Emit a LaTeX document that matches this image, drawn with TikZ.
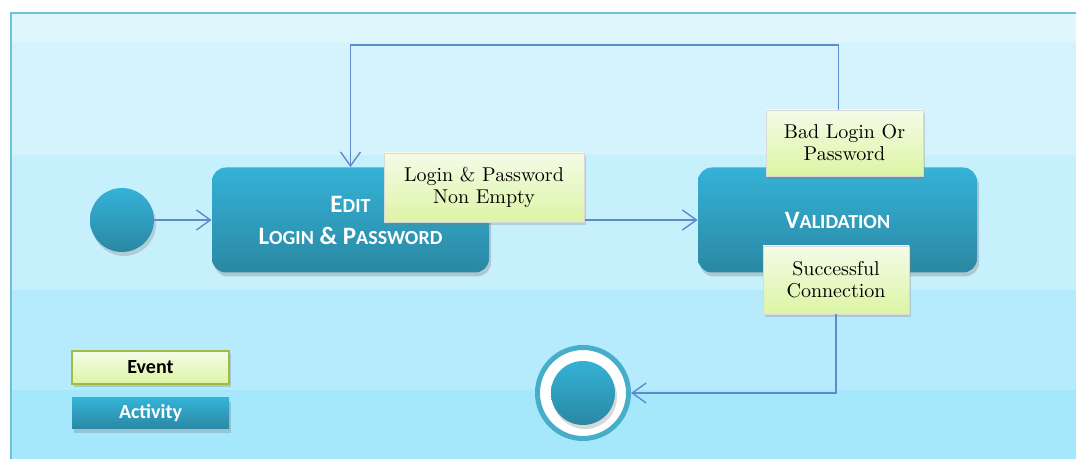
\documentclass[tikz,border=0pt]{standalone}
\usepackage{fontspec}
\newfontfamily\calibri{Carlito}
\usetikzlibrary{positioning,arrows.meta,shadows}

\definecolor{bandA}{HTML}{DFF6FC}
\definecolor{bandB}{HTML}{D5F3FD}
\definecolor{bandC}{HTML}{C7F0FD}
\definecolor{bandD}{HTML}{B5EBFC}
\definecolor{bandE}{HTML}{A6E8FB}
\definecolor{frameblue}{HTML}{6FC0D9}
\definecolor{actTop}{HTML}{35B2D7}
\definecolor{actBot}{HTML}{2A88A3}
\definecolor{evTop}{HTML}{F4FBE8}
\definecolor{evBot}{HTML}{DCF5A4}
\definecolor{evRim}{HTML}{9FBD42}
\definecolor{flowblue}{HTML}{5E8BCB}
\definecolor{ringteal}{HTML}{47AECA}

\newcommand{\smallcap}[2]{#1{\fontsize{10}{12}\selectfont #2}}

\begin{document}
\begin{tikzpicture}[x=1pt, y=1pt,
    activity/.style = {rounded corners=7pt, top color=actTop, bottom color=actBot, text=white, align=center,
        font=\calibri\bfseries\fontsize{12.5}{16}\selectfont,
        drop shadow={shadow xshift=1pt, shadow yshift=-2pt, opacity=0.35}},
    event/.style = {draw=black!15, line width=0.4pt, top color=evTop, bottom color=evBot, align=center,
        font=\fontsize{10}{11}\selectfont, inner sep=0pt,
        drop shadow={shadow xshift=1pt, shadow yshift=-1.5pt, opacity=0.3}},
    flow/.style = {draw=flowblue, line width=0.7pt, -{Straight Barb[length=7pt, width=10pt]}}]

    % background bands and frame
    \clip (0,0) rectangle (538,-229.5);
    \fill[bandA] (5,-6) rectangle (540,-21);
    \fill[bandB] (5,-21) rectangle (540,-77.5);
    \fill[bandC] (5,-77.5) rectangle (540,-145);
    \fill[bandD] (5,-145) rectangle (540,-195);
    \fill[bandE] (5,-195) rectangle (540,-232);
    \draw[frameblue, line width=1pt] (5.5,-240) -- (5.5,-6.5) -- (545,-6.5);

    % activities
    \node[circle, minimum size=32pt, top color=actTop, bottom color=actBot,
        drop shadow={shadow xshift=1pt, shadow yshift=-2pt, opacity=0.3}] (start) at (61,-110) {};
    \node[activity, minimum width=138.5pt, minimum height=52.5pt] (edit) [right of=start, node distance=114.25pt]
        {\smallcap{E}{DIT}\\\smallcap{L}{OGIN} \& \smallcap{P}{ASSWORD}};
    \node[activity, minimum width=139.5pt, minimum height=52.5pt] (valid) [right of=edit, node distance=243.5pt]
        {\smallcap{V}{ALIDATION}};

    \draw[flow] (start) -- (edit);
    \draw[flow] (edit.east) -- (valid.west);

    % events
    \node[event, minimum width=100pt, minimum height=34.5pt] (nonempty) at (242,-93.75) {Login \& Password\\Non Empty};
    \node[event, minimum width=78.5pt, minimum height=33pt] (badlogin) at (422.25,-71.5) {Bad Login Or\\Password};
    \node[event, minimum width=73pt, minimum height=34pt] (success) at (418,-140) {Successful\\Connection};

    % final state
    \node[circle, draw=ringteal, line width=2.5pt, fill=white, minimum size=45.5pt] (stop) at (291.5,-196.5) {};
    \node[circle, minimum size=32pt, top color=actTop, bottom color=actBot,
        drop shadow={shadow xshift=1pt, shadow yshift=-2pt, opacity=0.3}] (stopdot) at (stop) {};

    \draw[flow] ([xshift=-3pt]badlogin.north) |- ([yshift=61pt]edit.north) -- (edit.north);
    \draw[flow] (success.south) |- (stop.east);

    % legend
    \node[event, draw=evRim, line width=1pt, minimum width=78.5pt, minimum height=16.5pt,
        font=\calibri\bfseries\fontsize{10}{12}\selectfont] (legevent) at (75.25,-183.75) {Event};
    \node[activity, rounded corners=0pt, minimum width=78.5pt, minimum height=15.5pt, inner sep=0pt,
        font=\calibri\bfseries\fontsize{10}{12}\selectfont] (legactivity) [below of=legevent, node distance=23pt] {Activity};
\end{tikzpicture}
\end{document}
